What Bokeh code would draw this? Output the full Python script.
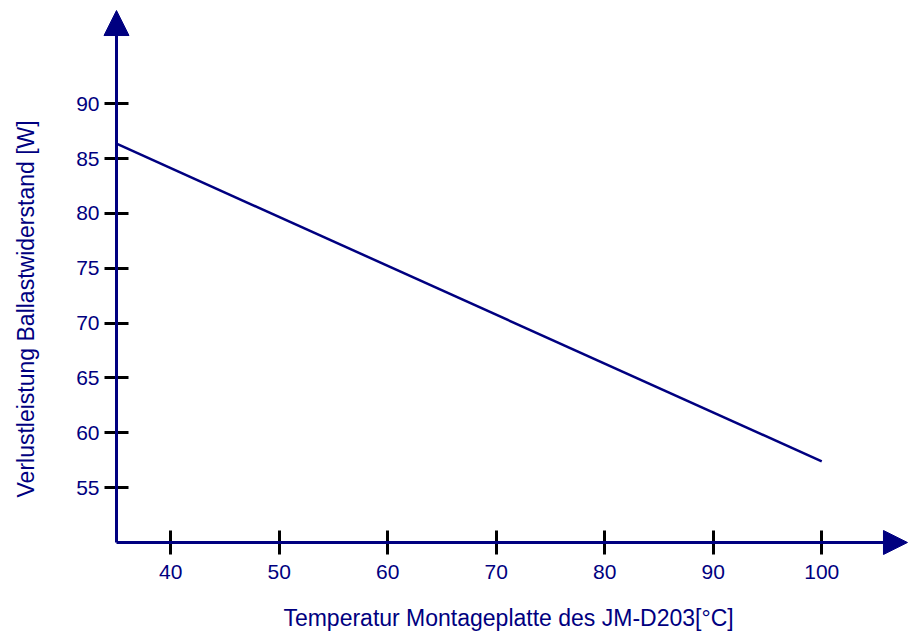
import math
from bokeh.plotting import figure
from bokeh.models import Arrow, NormalHead, Label, Range1d, FixedTicker
from bokeh.embed import file_html
from bokeh.resources import INLINE

# Data
temperature = [35, 100]
power = [86.35, 57.4]
x_ticks = [40, 50, 60, 70, 80, 90, 100]
y_ticks = [55, 60, 65, 70, 75, 80, 85, 90]
x_label = "Temperatur Montageplatte des JM-D203[°C]"
y_label = "Verlustleistung Ballastwiderstand [W]"

NAVY = "#000080"
FONT = "Liberation Sans"

# axis origin and arrow tips (data units)
X_ORIGIN, Y_ORIGIN = 35, 50
X_TIP, Y_TIP = 107.9, 98.49

p = figure(width=908, height=635, output_backend="svg", toolbar_location=None,
           x_range=Range1d(24.309, 107.995), y_range=Range1d(41.523, 99.403),
           min_border=0, min_border_left=0, min_border_right=0,
           min_border_top=0, min_border_bottom=0)
p.outline_line_color = None
p.grid.visible = False
p.background_fill_color = "white"
p.border_fill_color = "white"

for ax in (p.xaxis[0], p.yaxis[0]):
    ax.axis_line_color = None
    ax.major_tick_line_color = "black"
    ax.major_tick_line_width = 3
    ax.major_tick_in = 12
    ax.major_tick_out = 12
    ax.minor_tick_line_color = None
    ax.major_label_text_color = NAVY
    ax.major_label_text_font = FONT
    ax.major_label_text_font_size = "21px"

p.xaxis[0].fixed_location = Y_ORIGIN
p.yaxis[0].fixed_location = X_ORIGIN
p.xaxis[0].ticker = FixedTicker(ticks=x_ticks)
p.yaxis[0].ticker = FixedTicker(ticks=y_ticks)
p.xaxis[0].major_label_standoff = 11
p.yaxis[0].major_label_standoff = 5

# axes with arrow heads
p.add_layout(Arrow(x_start=X_ORIGIN, y_start=Y_ORIGIN, x_end=X_TIP, y_end=Y_ORIGIN,
                   line_color=NAVY, line_width=3,
                   end=NormalHead(size=24, fill_color=NAVY, line_color=NAVY)))
p.add_layout(Arrow(x_start=X_ORIGIN, y_start=Y_ORIGIN, x_end=X_ORIGIN, y_end=Y_TIP,
                   line_color=NAVY, line_width=3,
                   end=NormalHead(size=25, fill_color=NAVY, line_color=NAVY)))

p.line(temperature, power, line_color=NAVY, line_width=2.5)

p.add_layout(Label(x=71.13, y=43.16, text=x_label,
                   text_align="center", text_baseline="middle",
                   text_color=NAVY, text_font=FONT, text_font_size="23px"))
p.add_layout(Label(x=26.67, y=71.29, text=y_label, angle=math.pi / 2,
                   text_align="center", text_baseline="middle",
                   text_color=NAVY, text_font=FONT, text_font_size="23px"))

open("out.html", "w").write(file_html(p, INLINE))
